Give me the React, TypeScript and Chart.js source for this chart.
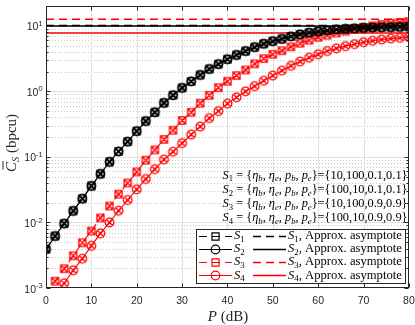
import { useEffect, useRef } from "react";
import { Chart, registerables } from "chart.js";

Chart.register(...registerables);

// ---- data ----
const powerDb = [0, 2, 4, 6, 8, 10, 12, 14, 16, 18, 20, 22, 24, 26, 28, 30, 32, 34, 36, 38, 40, 42, 44, 46, 48, 50, 52, 54, 56, 58, 60, 62, 64, 66, 68, 70, 72, 74, 76, 78, 80];

const capS1 = [0.0039, 0.0062, 0.0096, 0.015, 0.023, 0.036, 0.055, 0.084, 0.121, 0.171, 0.247, 0.352, 0.48, 0.667, 0.873, 1.13, 1.42, 1.78, 2.19, 2.6, 3.09, 3.59, 4.12, 4.73, 5.32, 5.82, 6.3, 6.9, 7.4, 7.85, 8.2, 8.5, 8.8, 9.0, 9.15, 9.3, 9.4, 9.5, 9.55, 9.6, 9.65];
const capS2 = [0.0039, 0.0062, 0.0096, 0.015, 0.023, 0.036, 0.055, 0.084, 0.121, 0.171, 0.247, 0.352, 0.48, 0.667, 0.873, 1.13, 1.42, 1.78, 2.19, 2.6, 3.09, 3.59, 4.12, 4.73, 5.32, 5.82, 6.3, 6.9, 7.4, 7.85, 8.2, 8.5, 8.8, 9.0, 9.15, 9.3, 9.4, 9.5, 9.55, 9.6, 9.65];
const capS3 = [0.00081, 0.00127, 0.00197, 0.0031, 0.0049, 0.0074, 0.0117, 0.0178, 0.027, 0.04, 0.059, 0.089, 0.128, 0.185, 0.255, 0.36, 0.48, 0.66, 0.87, 1.14, 1.43, 1.74, 2.12, 2.63, 3.16, 3.68, 4.17, 4.79, 5.43, 6.03, 6.68, 7.2, 7.76, 8.32, 8.9, 9.5, 10.0, 10.5, 10.96, 11.3, 11.6];
const capS4 = [0.00048, 0.00076, 0.00118, 0.00186, 0.0028, 0.0044, 0.0068, 0.01, 0.0151, 0.022, 0.032, 0.046, 0.065, 0.091, 0.12, 0.162, 0.219, 0.29, 0.39, 0.5, 0.65, 0.81, 1.0, 1.2, 1.45, 1.74, 2.07, 2.45, 2.85, 3.27, 3.68, 4.12, 4.52, 4.9, 5.27, 5.62, 5.92, 6.17, 6.38, 6.56, 6.7];

const asymptotes = [10.1, 9.97, 12.6, 7.8];

const scenarioIds = ["1", "2", "3", "4"];
const etaB = ["10", "100", "10", "100"];
const etaE = ["100", "10", "100", "10"];
const pB = ["0.1", "0.1", "0.9", "0.9"];
const pE = ["0.1", "0.1", "0.9", "0.9"];

const xTicks = [0, 10, 20, 30, 40, 50, 60, 70, 80];
const yDecadeExps = [-3, -2, -1, 0, 1];
const xMin = 0;
const xMax = 80;
const yMin = 0.001;
const yMax = 20;

// ---- styles ----
const BLACK = "#000000";
const RED = "#ff0000";
const AXIS_COLOR = "#262626";
const SANS = '"Liberation Sans", Arial, Helvetica, sans-serif';
const SERIF = '"Liberation Serif", "Times New Roman", serif';
const DASH = [8, 5];

type Seg = { t: string; i?: boolean; sub?: boolean; sup?: boolean };

function segFont(s: Seg, size: number, family: string) {
  const sz = s.sub || s.sup ? size * 0.7 : size;
  return `${s.i ? "italic " : ""}${sz}px ${family}`;
}

function measureSegs(ctx: CanvasRenderingContext2D, segs: Seg[], size: number, family: string) {
  let w = 0;
  for (const s of segs) {
    ctx.font = segFont(s, size, family);
    w += ctx.measureText(s.t).width;
  }
  return w;
}

function drawSegs(
  ctx: CanvasRenderingContext2D,
  segs: Seg[],
  x: number,
  baseline: number,
  size: number,
  family: string,
  align: "left" | "right" | "center",
  color: string
) {
  const total = measureSegs(ctx, segs, size, family);
  let cx = align === "right" ? x - total : align === "center" ? x - total / 2 : x;
  ctx.fillStyle = color;
  ctx.textAlign = "left";
  ctx.textBaseline = "alphabetic";
  for (const s of segs) {
    ctx.font = segFont(s, size, family);
    const dy = s.sub ? size * 0.22 : s.sup ? -size * 0.42 : 0;
    ctx.fillText(s.t, cx, baseline + dy);
    cx += ctx.measureText(s.t).width;
  }
  return total;
}

function drawMarker(ctx: CanvasRenderingContext2D, style: string, x: number, y: number, r: number, color: string) {
  ctx.save();
  ctx.setLineDash([]);
  ctx.strokeStyle = color;
  ctx.lineWidth = 1.2;
  ctx.beginPath();
  if (style === "rect") {
    const h = r * Math.SQRT1_2;
    ctx.rect(x - h, y - h, 2 * h, 2 * h);
  } else {
    ctx.arc(x, y, r, 0, Math.PI * 2);
  }
  ctx.stroke();
  ctx.restore();
}

function makeMarkerImage(style: string, color: string, r: number) {
  const c = document.createElement("canvas");
  c.width = 13;
  c.height = 13;
  const g = c.getContext("2d") as CanvasRenderingContext2D;
  const m = 6.5;
  g.strokeStyle = color;
  g.lineWidth = 1.3;
  g.beginPath();
  let d: number;
  if (style === "rect") {
    const h = r * Math.SQRT1_2;
    g.rect(m - h, m - h, 2 * h, 2 * h);
    d = h;
  } else {
    g.arc(m, m, r, 0, Math.PI * 2);
    d = r * Math.SQRT1_2;
  }
  g.moveTo(m - d, m - d);
  g.lineTo(m + d, m + d);
  g.moveTo(m - d, m + d);
  g.lineTo(m + d, m - d);
  g.stroke();
  return c;
}

function paramSegs(i: number): Seg[] {
  return [
    { t: "S", i: true },
    { t: scenarioIds[i], sub: true },
    { t: " = {" },
    { t: "η", i: true },
    { t: "b", i: true, sub: true },
    { t: ", " },
    { t: "η", i: true },
    { t: "e", i: true, sub: true },
    { t: ", " },
    { t: "p", i: true },
    { t: "b", i: true, sub: true },
    { t: ", " },
    { t: "p", i: true },
    { t: "e", i: true, sub: true },
    { t: `}={${etaB[i]},${etaE[i]},${pB[i]},${pE[i]}}` },
  ];
}

const curveStyles = [
  { color: BLACK, dash: DASH, point: "rect", r: 5 },
  { color: BLACK, dash: [] as number[], point: "circle", r: 4.3 },
  { color: RED, dash: DASH, point: "rect", r: 5 },
  { color: RED, dash: [] as number[], point: "circle", r: 4.3 },
];

const decorPlugin = {
  id: "decor",
  beforeDatasetsDraw(chart: any) {
    const ctx: CanvasRenderingContext2D = chart.ctx;
    const { left, right, top, bottom } = chart.chartArea;
    const xs = chart.scales.x;
    const ys = chart.scales.y;
    ctx.save();
    ctx.strokeStyle = "#c8c8c8";
    ctx.lineWidth = 1;
    ctx.setLineDash([1, 2]);
    for (const e of yDecadeExps) {
      for (let k = 2; k <= 9; k++) {
        const v = k * Math.pow(10, e);
        if (v > yMax) continue;
        const py = Math.round(ys.getPixelForValue(v)) + 0.5;
        ctx.beginPath();
        ctx.moveTo(left, py);
        ctx.lineTo(right, py);
        ctx.stroke();
      }
    }
    ctx.setLineDash([]);
    ctx.strokeStyle = "#e0e0e0";
    for (const e of yDecadeExps) {
      const py = Math.round(ys.getPixelForValue(Math.pow(10, e))) + 0.5;
      if (py >= bottom - 0.5) continue;
      ctx.beginPath();
      ctx.moveTo(left, py);
      ctx.lineTo(right, py);
      ctx.stroke();
    }
    for (const t of xTicks) {
      if (t === xMin || t === xMax) continue;
      const px = Math.round(xs.getPixelForValue(t)) + 0.5;
      ctx.beginPath();
      ctx.moveTo(px, top);
      ctx.lineTo(px, bottom);
      ctx.stroke();
    }
    ctx.restore();
  },
  afterDraw(chart: any) {
    const ctx: CanvasRenderingContext2D = chart.ctx;
    const { left, right, top, bottom } = chart.chartArea;
    const xs = chart.scales.x;
    const ys = chart.scales.y;
    ctx.save();
    const L = Math.round(left) + 0.5;
    const R = Math.round(right) - 0.5;
    const T = Math.round(top) + 0.5;
    const B = Math.round(bottom) - 0.5;
    ctx.strokeStyle = AXIS_COLOR;
    ctx.lineWidth = 1;
    ctx.setLineDash([]);
    ctx.strokeRect(L, T, R - L, B - T);
    for (const t of xTicks) {
      const px = Math.round(xs.getPixelForValue(t)) + 0.5;
      ctx.beginPath();
      ctx.moveTo(px, B);
      ctx.lineTo(px, B - 4);
      ctx.moveTo(px, T);
      ctx.lineTo(px, T + 4);
      ctx.stroke();
    }
    for (const e of yDecadeExps) {
      for (let k = 1; k <= 9; k++) {
        const v = k * Math.pow(10, e);
        if (v > yMax) continue;
        const py = Math.round(ys.getPixelForValue(v)) + 0.5;
        const len = k === 1 ? 4 : 2;
        ctx.beginPath();
        ctx.moveTo(L, py);
        ctx.lineTo(L + len, py);
        ctx.moveTo(R, py);
        ctx.lineTo(R - len, py);
        ctx.stroke();
      }
    }
    ctx.fillStyle = AXIS_COLOR;
    ctx.font = `10.5px ${SANS}`;
    ctx.textAlign = "center";
    ctx.textBaseline = "alphabetic";
    for (const t of xTicks) {
      const px = xs.getPixelForValue(t);
      ctx.fillText(String(t), px, 303.5);
    }
    for (const e of yDecadeExps) {
      const py = ys.getPixelForValue(Math.pow(10, e));
      const segs: Seg[] = [{ t: "10" }, { t: String(e), sup: true }];
      drawSegs(ctx, segs, left - 3.5, py + 4.5, 10.5, SANS, "right", AXIS_COLOR);
    }
    // x title
    drawSegs(ctx, [{ t: "P", i: true }, { t: " (dB)" }], 228, 321, 15, SERIF, "center", AXIS_COLOR);
    // y title (rotated)
    ctx.save();
    ctx.translate(15.5, 143);
    ctx.rotate(-Math.PI / 2);
    const ySegs: Seg[] = [{ t: "C", i: true }, { t: "S", i: true, sub: true }, { t: " (bpcu)" }];
    const tw = measureSegs(ctx, ySegs, 15, SERIF);
    drawSegs(ctx, ySegs, 0, 0, 15, SERIF, "center", AXIS_COLOR);
    ctx.font = `italic 15px ${SERIF}`;
    const cw = ctx.measureText("C").width;
    ctx.strokeStyle = AXIS_COLOR;
    ctx.lineWidth = 1;
    ctx.beginPath();
    ctx.moveTo(-tw / 2 + 2.5, -12.5);
    ctx.lineTo(-tw / 2 + cw + 1, -12.5);
    ctx.stroke();
    ctx.restore();

    // parameter annotation
    const refW = measureSegs(ctx, paramSegs(0), 10, SERIF);
    const pSize = (10 * 185) / refW;
    const lineYs = [179.5, 193.8, 208.1, 222.4];
    for (let i = 0; i < 4; i++) {
      drawSegs(ctx, paramSegs(i), 407.5, lineYs[i] - 1, pSize, SERIF, "right", "#000");
    }

    // legend
    const bx0 = 196.5, bx1 = 405.5, by0 = 229.5, by1 = 283.5;
    ctx.fillStyle = "#ffffff";
    ctx.fillRect(bx0, by0, bx1 - bx0, by1 - by0);
    ctx.strokeStyle = AXIS_COLOR;
    ctx.lineWidth = 1;
    ctx.setLineDash([]);
    ctx.strokeRect(bx0, by0, bx1 - bx0, by1 - by0);
    const rows = [235.5, 248.8, 262.1, 275.4];
    const lblRef: Seg[] = [{ t: "S", i: true }, { t: "1", sub: true }, { t: ", Approx. asymptote" }];
    const lSize = (10 * 114) / measureSegs(ctx, lblRef, 10, SERIF);
    for (let i = 0; i < 4; i++) {
      const st = curveStyles[i];
      const y = Math.round(rows[i]) + 0.5;
      ctx.strokeStyle = st.color;
      ctx.lineWidth = 1;
      ctx.setLineDash(st.dash);
      ctx.beginPath();
      ctx.moveTo(199, y);
      ctx.lineTo(232, y);
      ctx.stroke();
      drawMarker(ctx, st.point, 215.5, y, st.r, st.color);
      drawSegs(ctx, [{ t: "S", i: true }, { t: scenarioIds[i], sub: true }], 234, rows[i] + 3.3, lSize, SERIF, "left", "#000");
      ctx.strokeStyle = st.color;
      ctx.lineWidth = 1.5;
      ctx.setLineDash(st.dash);
      ctx.beginPath();
      ctx.moveTo(253, y);
      ctx.lineTo(286, y);
      ctx.stroke();
      ctx.setLineDash([]);
      drawSegs(
        ctx,
        [{ t: "S", i: true }, { t: scenarioIds[i], sub: true }, { t: ", Approx. asymptote" }],
        288,
        rows[i] + 3.3,
        lSize,
        SERIF,
        "left",
        "#000"
      );
    }
    ctx.restore();
  },
};

export default function App() {
  const canvasRef = useRef<HTMLCanvasElement | null>(null);

  useEffect(() => {
    document.body.style.margin = "0";
    const canvas = canvasRef.current;
    if (!canvas) return;
    const series = [capS1, capS2, capS3, capS4];
    const curveSets = series.map((vals, i) => ({
      label: `S${scenarioIds[i]}`,
      data: powerDb.map((p, j) => ({ x: p, y: vals[j] })),
      borderColor: curveStyles[i].color,
      backgroundColor: "rgba(0,0,0,0)",
      borderWidth: 1.1,
      borderDash: curveStyles[i].dash,
      pointStyle: makeMarkerImage(curveStyles[i].point, curveStyles[i].color, curveStyles[i].r),
      pointRadius: curveStyles[i].r,
      tension: 0,
    }));
    const asymSets = asymptotes.map((v, i) => ({
      label: `S${scenarioIds[i]}, Approx. asymptote`,
      data: [
        { x: xMin, y: v },
        { x: xMax, y: v },
      ],
      borderColor: curveStyles[i].color,
      borderWidth: 1.5,
      borderDash: curveStyles[i].dash,
      pointRadius: 0,
      tension: 0,
    }));
    const chart = new Chart(canvas, {
      type: "line",
      data: { datasets: [...curveSets, ...asymSets] as any },
      options: {
        animation: false,
        responsive: true,
        maintainAspectRatio: false,
        layout: { padding: { left: 46, right: 4, top: 1, bottom: 37 } },
        plugins: { legend: { display: false }, tooltip: { enabled: false } },
        scales: {
          x: { type: "linear", min: xMin, max: xMax, display: false },
          y: { type: "logarithmic", min: yMin, max: yMax, display: false },
        },
      },
      plugins: [decorPlugin],
    });
    return () => chart.destroy();
  }, []);

  return (
    <div style={{ width: 415, height: 325, position: "relative" }}>
      <canvas ref={canvasRef} />
    </div>
  );
}
